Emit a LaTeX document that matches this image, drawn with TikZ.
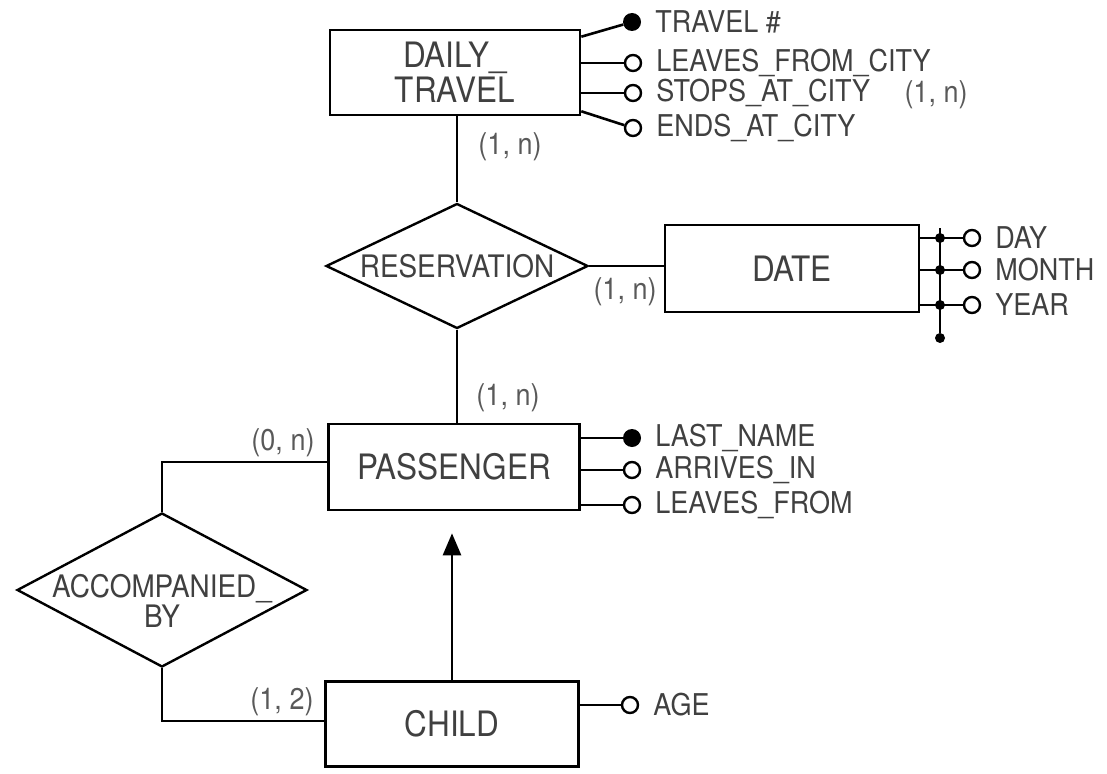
\documentclass[tikz,border=0pt]{standalone}
\usepackage{fontspec}
\setmainfont{TeX Gyre Heros}[FakeStretch=0.9]
\usetikzlibrary{shapes.geometric,arrows.meta,positioning}
\tikzset{ent/.style={draw,line width=2.6pt,align=center,font=\fontsize{35}{35}\selectfont,text=black!75},
 rel/.style={draw,diamond,line width=2.4pt,inner sep=0pt},
 rtxt/.style={align=center,font=\fontsize{31}{30}\selectfont,text=black!75},
 att/.style={anchor=west,inner sep=1pt,font=\fontsize{30}{30}\selectfont,text=black!75},
 crd/.style={font=\fontsize{30}{30}\selectfont,text=black!65},
 idd/.style={circle,fill=black,minimum size=18pt,inner sep=0pt},
 opd/.style={circle,draw,line width=2.4pt,fill=white,minimum size=16pt,inner sep=0pt},
 sd/.style={circle,fill=black,minimum size=10pt,inner sep=0pt},
 ln/.style={line width=2.6pt},
 ar/.style={line width=2.6pt,-{Triangle[length=22pt,width=18pt]}}}

\begin{document}
\begin{tikzpicture}[x=1pt,y=-1pt]
\useasboundingbox (0,0) rectangle (1107,773);
% entities and relationships
\node[ent,minimum width=250pt,minimum height=85pt](daily) at (455,72.5){DAILY\_\\TRAVEL};
\node[ent,minimum width=254pt,minimum height=87pt](date) at (792,268.5){DATE};
\node[ent,minimum width=251pt,minimum height=86pt](pass) at (454,467){PASSENGER};
\node[ent,minimum width=253pt,minimum height=85pt](child) at (452,724){CHILD};
\node[rel,minimum width=262pt,minimum height=125pt](resv) at (457,266){};\node[rtxt] at (resv){RESERVATION};
\node[rel,minimum width=290pt,minimum height=154pt](acc) at (162,590){};\node[rtxt] at (162,601){ACCOMPANIED\_\\BY};
% links
\draw[ln](resv.north |- daily.south)--(resv.north);\draw[ln](resv.east)--(resv.east -| date.west);
\draw[ln](resv.south)--(resv.south |- pass.north);
\draw[ln](acc.north)|-([yshift=5pt]pass.west);\draw[ln](acc.south)|-([yshift=3pt]child.west);
\draw[ar,shorten >=22pt](child.north)--(child.north |- pass.south);
\node[crd] at (510,147){(1, n)};\node[crd] at (625,292){(1, n)};\node[crd] at (508,398){(1, n)};
\node[crd] at (283,443){(0, n)};\node[crd] at (282,702){(1, 2)};
% attributes of DAILY_TRAVEL
\node[idd](tnum) at (632,22){};\node[att,right=13pt of tnum]{TRAVEL \#};
\node[opd](lvc) at (633,63){};\node[att,right=13pt of lvc]{LEAVES\_FROM\_CITY};
\node[opd](stc) at (633,93){};\node[att,right=13pt of stc](stct){STOPS\_AT\_CITY};
\node[opd](enc) at (633,128){};\node[att,right=13pt of enc]{ENDS\_AT\_CITY};
\node[crd] at (936,95){(1, n)};
\draw[ln]([yshift=-8pt]daily.north east)--(tnum);\draw[ln](lvc -| daily.east)--(lvc);
\draw[ln](stc -| daily.east)--(stc);\draw[ln]([yshift=5pt]daily.south east)--(enc);
% attributes of DATE
\coordinate(dtop) at (940,228);\node[sd](dbot) at (940,338){};\draw[ln](dtop)--(dbot);
\node[opd](dday) at (972,238){};\node[att,right=13pt of dday]{DAY};
\node[opd](dmon) at (972,270){};\node[att,right=13pt of dmon]{MONTH};
\node[opd](dyr) at (972,305){};\node[att,right=13pt of dyr]{YEAR};
\draw[ln](dday -| date.east)--(dday);\draw[ln](dmon -| date.east)--(dmon);\draw[ln](dyr -| date.east)--(dyr);
\node[sd] at (dday -| dtop){};\node[sd] at (dmon -| dtop){};\node[sd] at (dyr -| dtop){};
% attributes of PASSENGER and CHILD
\node[idd](lnm) at (632,438){};\node[att,right=13pt of lnm]{LAST\_NAME};
\node[opd](arr) at (632,470){};\node[att,right=13pt of arr]{ARRIVES\_IN};
\node[opd](lvf) at (632,505){};\node[att,right=13pt of lvf]{LEAVES\_FROM};
\draw[ln](lnm -| pass.east)--(lnm);\draw[ln](arr -| pass.east)--(arr);\draw[ln](lvf -| pass.east)--(lvf);
\node[opd](age) at (630,705){};\node[att,right=13pt of age]{AGE};
\draw[ln](age -| child.east)--(age);
\end{tikzpicture}
\end{document}
